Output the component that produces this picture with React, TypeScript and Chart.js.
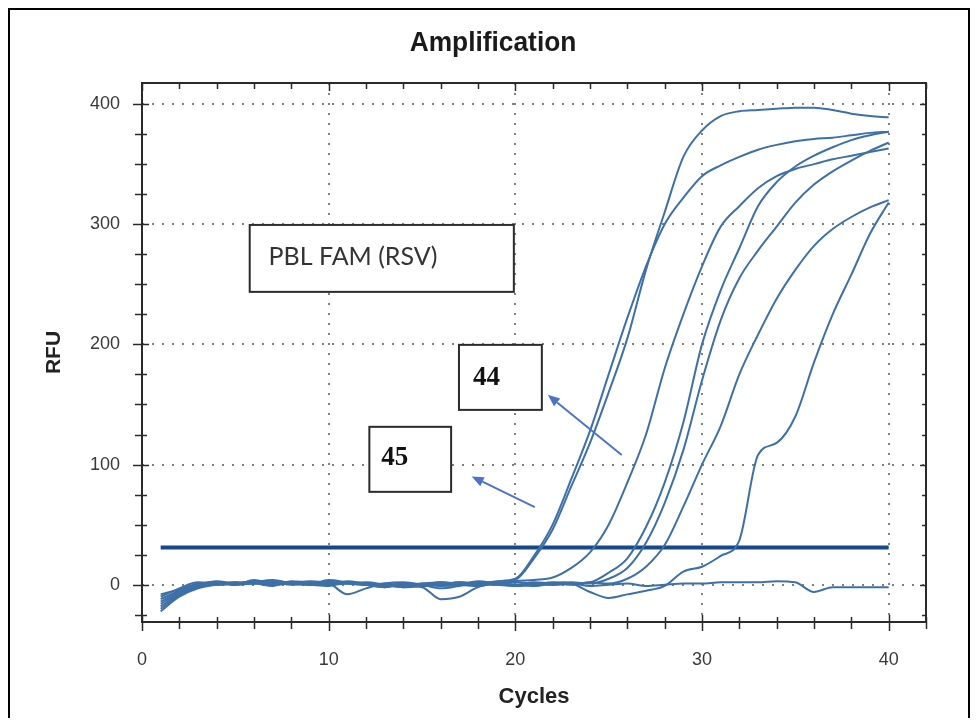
import React, { useEffect, useRef } from 'react';
import { Chart, registerables } from 'chart.js';

Chart.register(...registerables);

// ---------------- data ----------------
const cycles = [1, 2, 3, 4, 5, 6, 7, 8, 9, 10, 11, 12, 13, 14, 15, 16, 17, 18, 19, 20,
  21, 22, 23, 24, 25, 26, 27, 28, 29, 30, 31, 32, 33, 34, 35, 36, 37, 38, 39, 40];

const wellA = [-12, -5, 0, 1, 2, 1, 3, 2, 0, 1, 2, 0, -1, 1, 0, 2, 1, 0, 2, 4,
  22, 46, 82, 118, 160, 205, 262, 310, 356, 378, 390, 394, 395, 396, 397, 397, 395, 392, 390, 389];
const wellB = [-16, -7, -1, 0, 1, 3, 1, 2, 1, 0, 1, 2, 0, -2, 1, 0, 2, 1, 3, 5,
  24, 50, 88, 128, 175, 222, 265, 300, 322, 340, 349, 356, 362, 366, 369, 371, 372, 374, 376, 377];
const wellC = [-20, -9, -2, 1, 0, 2, 4, 1, 0, -1, 2, 1, 0, -2, -1, 1, 0, 2, 1, 3,
  4, 6, 14, 27, 50, 85, 125, 180, 225, 265, 298, 315, 330, 340, 346, 350, 354, 357, 360, 363];
const wellD = [-8, -4, 1, 2, 0, 1, -1, 3, 2, 1, -8, -3, 1, 2, 0, -3, -1, 1, 0, 2,
  1, 0, 1, 2, 10, 22, 48, 85, 135, 200, 245, 280, 315, 335, 348, 357, 364, 370, 374, 377];
const wellE = [-14, -6, 0, 3, 1, 2, 0, 1, 3, 2, 1, 0, -2, 0, 1, 2, 0, -1, 1, 0,
  -1, 1, 2, 1, 5, 14, 35, 68, 112, 170, 220, 255, 278, 298, 318, 333, 344, 353, 361, 368];
const wellF = [-22, -10, -3, 0, 2, 1, 2, 0, 1, 3, 1, 0, 1, -1, -2, -12, -10, -2, 1, 0,
  2, 1, 0, 2, 1, 5, 15, 33, 65, 100, 132, 175, 208, 238, 262, 282, 296, 306, 314, 320];
const wellG = [-10, -3, 2, 0, 1, 3, 2, 1, 0, 4, 2, 0, -2, 1, 0, -1, 0, 3, 1, -1,
  0, 2, 1, -6, -11, -8, -5, -1, 11, 15, 24, 37, 108, 118, 140, 185, 225, 258, 292, 318];
const wellNeg = [-18, -8, -1, 2, 0, 4, 1, 2, 1, 0, 3, 1, 0, 1, -1, 0, 2, 1, 0, -1,
  1, 0, 1, -1, 0, 1, -1, 0, 1, 1, 2, 2, 2, 3, 2, -6, -2, -2, -2, -2];

const wells = [wellA, wellB, wellC, wellD, wellE, wellF, wellG, wellNeg];

const thresholdRFU = 31;
const thresholdSpan = [1, 40];

const xTickLabels = [0, 10, 20, 30, 40];
const yTickLabels = [0, 100, 200, 300, 400];
const xMinorStep = 2;
const yMinorStep = 25;

const titleText = 'Amplification';
const xTitle = 'Cycles';
const yTitle = 'RFU';
const legendText = 'PBL FAM (RSV)';
const labelTexts = ['44', '45'];

// annotations, expressed in chart (cycle, RFU) coordinates
const legendBox = { x0: 5.77, x1: 19.92, y0: 243.7, y1: 299.4, tx: 6.78, ty: 266 };
const labelBoxes = [
  { x0: 16.98, x1: 21.42, y0: 145.5, y1: 199.6, tx: 17.73, ty: 166.3 },
  { x0: 12.18, x1: 16.56, y0: 77.3, y1: 131.4, tx: 12.82, ty: 99.8 },
];
const arrows = [
  { fx: 25.7, fy: 108, tx: 21.74, ty: 158 },
  { fx: 21.04, fy: 64.6, tx: 17.66, ty: 90.1 },
];

// ---------------- drawing ----------------
const X_MIN = 0;
const X_MAX = 42;
const Y_MIN = -31;
const Y_MAX = 417.5;

const decorPlugin = {
  id: 'decor',
  beforeDatasetsDraw(chart: any) {
    const { ctx, chartArea: a, scales } = chart;
    const xs = scales.x;
    const ys = scales.y;
    ctx.save();
    ctx.strokeStyle = '#808080';
    ctx.lineWidth = 2;
    ctx.setLineDash([2, 8]);
    for (const v of xTickLabels) {
      if (v === X_MIN) continue;
      const px = Math.round(xs.getPixelForValue(v));
      ctx.beginPath();
      ctx.moveTo(px, a.top);
      ctx.lineTo(px, a.bottom);
      ctx.stroke();
    }
    for (const v of yTickLabels) {
      const py = Math.round(ys.getPixelForValue(v));
      ctx.beginPath();
      ctx.moveTo(a.left, py);
      ctx.lineTo(a.right, py);
      ctx.stroke();
    }
    ctx.restore();
  },
  afterDatasetsDraw(chart: any) {
    const { ctx, chartArea: a, scales } = chart;
    const xs = scales.x;
    const ys = scales.y;
    const X = (v: number) => xs.getPixelForValue(v);
    const Y = (v: number) => ys.getPixelForValue(v);
    ctx.save();
    // frame
    ctx.strokeStyle = '#2a2a2a';
    ctx.lineWidth = 2;
    ctx.strokeRect(a.left, a.top, a.right - a.left, a.bottom - a.top);
    // ticks
    ctx.lineWidth = 1.5;
    for (let v = X_MIN; v <= X_MAX; v += xMinorStep) {
      const px = Math.round(X(v)) + 0.5;
      const major = v % 10 === 0;
      ctx.beginPath();
      ctx.moveTo(px, a.bottom + (major ? 9 : 7));
      ctx.lineTo(px, a.bottom - (major ? 7 : 5));
      ctx.moveTo(px, a.top);
      ctx.lineTo(px, a.top + (major ? 8 : 6));
      ctx.stroke();
    }
    for (let v = -25; v <= Y_MAX; v += yMinorStep) {
      const py = Math.round(Y(v)) + 0.5;
      const major = v % 100 === 0;
      ctx.beginPath();
      ctx.moveTo(a.left - (major ? 9 : 7), py);
      ctx.lineTo(a.left + (major ? 7 : 5), py);
      ctx.moveTo(a.right, py);
      ctx.lineTo(a.right - (major ? 6 : 4), py);
      ctx.stroke();
    }

    // legend box
    const drawBox = (b: any) => {
      const x0 = X(b.x0), x1 = X(b.x1), y0 = Y(b.y1), y1 = Y(b.y0);
      ctx.fillStyle = '#ffffff';
      ctx.fillRect(x0, y0, x1 - x0, y1 - y0);
      ctx.strokeStyle = '#2b2b2b';
      ctx.lineWidth = 2;
      ctx.strokeRect(x0, y0, x1 - x0, y1 - y0);
    };
    drawBox(legendBox);
    ctx.fillStyle = '#333333';
    ctx.font = '25px Lato';
    ctx.textBaseline = 'alphabetic';
    ctx.textAlign = 'left';
    ctx.fillText(legendText, X(legendBox.tx), Y(legendBox.ty));

    labelBoxes.forEach((b, i) => {
      drawBox(b);
      ctx.fillStyle = '#111111';
      ctx.font = 'bold 27px "Liberation Serif"';
      ctx.fillText(labelTexts[i], X(b.tx), Y(b.ty));
    });

    // arrows
    ctx.strokeStyle = '#4a74c9';
    ctx.fillStyle = '#4a74c9';
    ctx.lineWidth = 2;
    for (const ar of arrows) {
      const fx = X(ar.fx), fy = Y(ar.fy), tx = X(ar.tx), ty = Y(ar.ty);
      const ang = Math.atan2(ty - fy, tx - fx);
      const hl = 12, hw = 5;
      const bx = tx - hl * Math.cos(ang), by = ty - hl * Math.sin(ang);
      ctx.beginPath();
      ctx.moveTo(fx, fy);
      ctx.lineTo(bx, by);
      ctx.stroke();
      ctx.beginPath();
      ctx.moveTo(tx, ty);
      ctx.lineTo(bx + hw * Math.sin(ang), by - hw * Math.cos(ang));
      ctx.lineTo(bx - hw * Math.sin(ang), by + hw * Math.cos(ang));
      ctx.closePath();
      ctx.fill();
    }
    ctx.restore();
  },
  afterDraw(chart: any) {
    const { ctx } = chart;
    ctx.save();
    ctx.fillStyle = '#1a1a1a';
    ctx.font = 'bold 28px "Liberation Sans"';
    ctx.textAlign = 'center';
    ctx.textBaseline = 'middle';
    ctx.translate(483, 33);
    ctx.scale(0.94, 1);
    ctx.fillText(titleText, 0, 0);
    ctx.restore();
  },
};

export default function App() {
  const ref = useRef<HTMLCanvasElement | null>(null);

  useEffect(() => {
    if (!ref.current) return;
    const curveColor = '#3d70a8';
    const datasets: any[] = wells.map((w, i) => ({
      label: `well ${i + 1}`,
      data: cycles.map((c, k) => ({ x: c, y: w[k] })),
      borderColor: curveColor,
      borderWidth: 2,
      pointRadius: 0,
      fill: false,
      cubicInterpolationMode: 'monotone',
    }));
    datasets.push({
      label: 'threshold',
      data: thresholdSpan.map((c) => ({ x: c, y: thresholdRFU })),
      borderColor: '#17498a',
      borderWidth: 4,
      pointRadius: 0,
      fill: false,
    });

    const chart = new Chart(ref.current, {
      type: 'line',
      data: { datasets },
      options: {
        responsive: false,
        animation: false,
        devicePixelRatio: 1,
        layout: { padding: { top: 73, right: 42, left: 0, bottom: 0 } },
        plugins: {
          legend: { display: false },
          tooltip: { enabled: false },
          title: { display: false },
        },
        scales: {
          x: {
            type: 'linear',
            min: X_MIN,
            max: X_MAX,
            grid: { display: false, drawTicks: false },
            border: { display: false },
            ticks: {
              stepSize: 10,
              includeBounds: false,
              padding: 27,
              color: '#3a3a3a',
              font: { family: '"Liberation Sans"', size: 18 },
              maxRotation: 0,
              callback: (v: any) => (xTickLabels.includes(Number(v)) ? String(v) : ''),
            },
            title: {
              display: true,
              text: xTitle,
              color: '#222222',
              font: { family: '"Liberation Sans"', size: 22, weight: 'bold' },
              padding: { top: 0, bottom: 8 },
            },
            afterFit: (s: any) => { s.height = 96; },
          },
          y: {
            type: 'linear',
            min: Y_MIN,
            max: Y_MAX,
            grid: { display: false, drawTicks: false },
            border: { display: false },
            ticks: {
              stepSize: 100,
              includeBounds: false,
              padding: 22,
              color: '#3a3a3a',
              font: { family: '"Liberation Sans"', size: 18 },
              callback: (v: any) => (yTickLabels.includes(Number(v)) ? String(v) : ''),
            },
            title: {
              display: true,
              text: yTitle,
              color: '#222222',
              font: { family: '"Liberation Sans"', size: 21, weight: 'bold' },
              padding: { top: 32, bottom: 0 },
            },
            afterFit: (s: any) => { s.width = 132; },
          },
        },
      },
      plugins: [decorPlugin],
    });
    return () => chart.destroy();
  }, []);

  return (
    <div
      style={{
        width: 958,
        height: 708,
        borderTop: '2px solid #000',
        borderLeft: '2px solid #000',
        borderRight: '2px solid #000',
      }}
    >
      <canvas ref={ref} width={958} height={708} style={{ display: 'block' }} />
    </div>
  );
}
